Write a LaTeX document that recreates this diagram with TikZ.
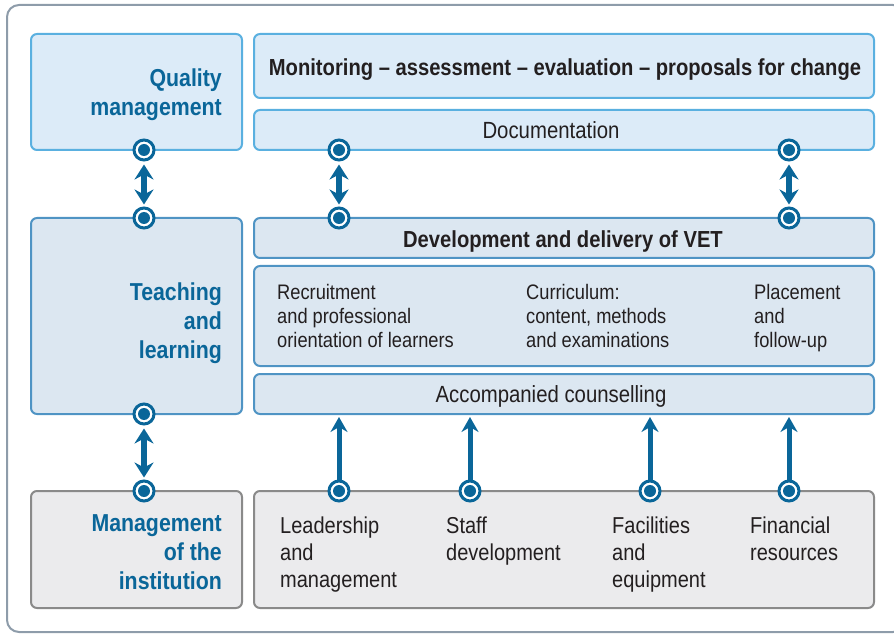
\documentclass[tikz,border=0pt]{standalone}
\usepackage{fontspec}
\setmainfont[FakeStretch=0.87]{Liberation Sans}
\usetikzlibrary{arrows.meta}
\definecolor{frame}{HTML}{8E9CAA}
\definecolor{lbfill}{HTML}{DCEBF8}
\definecolor{lbdraw}{HTML}{5AB0E0}
\definecolor{mbfill}{HTML}{DCE7F1}
\definecolor{mbdraw}{HTML}{4F94C4}
\definecolor{gfill}{HTML}{EBEBED}
\definecolor{gdraw}{HTML}{8A8A8A}
\definecolor{dblue}{HTML}{0A6699}
\definecolor{txt}{HTML}{231F20}
\tikzset{
  box/.style={rounded corners=6pt, line width=2pt, minimum height=#1, inner sep=0pt, outer sep=0pt},
  qbox/.style={box=#1, draw=lbdraw, fill=lbfill},
  tbox/.style={box=#1, draw=mbdraw, fill=mbfill},
  gbox/.style={box=#1, draw=gdraw, fill=gfill},
  leftw/.style={minimum width=211pt},
  rightw/.style={minimum width=620pt},
  lbl/.style={anchor=east, align=right, text=dblue, inner sep=0pt, font=\fontsize{24.5}{29}\selectfont\bfseries},
  big/.style={text=txt, inner sep=0pt, font=\fontsize{23.4}{27}\selectfont},
  bigb/.style={text=txt, inner sep=0pt, font=\fontsize{23.2}{27}\selectfont\bfseries},
  capc/.style={text height=16.5pt, text depth=0pt},
  mid/.style={anchor=west, align=left, text=txt, inner sep=0pt, font=\fontsize{21}{24}\selectfont},
  bot/.style={anchor=west, align=left, text=txt, inner sep=0pt, font=\fontsize{23}{27}\selectfont},
  pin/.style={circle, draw=dblue, fill=white, line width=3pt, minimum size=20pt, inner sep=0pt,
    path picture={\fill[dblue] (path picture bounding box.center) circle (6pt);}},
  dbl/.style={draw=dblue, line width=6pt, {Stealth[inset=5pt,length=15pt,width=19pt]}-{Stealth[inset=5pt,length=15pt,width=19pt]}, shorten <=3pt, shorten >=2pt},
  upar/.style={draw=dblue, line width=5pt, -{Stealth[inset=5pt,length=15pt,width=17pt]}, shorten >=3pt}
}
\begin{document}
\begin{tikzpicture}[x=1pt,y=-1pt]
\useasboundingbox (0,0) rectangle (894,636);
\draw[frame, line width=2pt, rounded corners=12pt] (7,5) rectangle (905,632);
% left boxes
\node[qbox=116pt, leftw] (qm) at (136.5,92) {};
\node[tbox=196pt, leftw] (tl) at (136.5,316) {};
\node[gbox=117pt, leftw] (mi) at (136.5,549.5) {};
\node[lbl] (qmt) at (222,95) {Quality\\management};
\node[lbl] (tlt) at (222,323) {Teaching\\and\\learning};
\node[lbl] (mit) at (222,552) {Management\\of the\\institution};
% right boxes
\node[qbox=64pt, rightw] (mon) at (564,66) {};
\node[bigb, capc] (mont) at (565,67) {Monitoring -- assessment -- evaluation -- proposals for change};
\node[qbox=40pt, rightw] (doc) at (564,130) {};
\node[big, capc] (doct) at (551,130) {Documentation};
\node[tbox=40pt, rightw] (dev) at (564,238) {};
\node[bigb, capc] (devt) at (563,239) {Development and delivery of VET};
\node[tbox=100pt, rightw] (cur) at (564,316) {};
\node[tbox=40pt, rightw] (acc) at (564,394) {};
\node[big, capc] (acct) at (551,394) {Accompanied counselling};
\node[gbox=117pt, rightw] (res) at (564,549.5) {};
% middle texts
\node[mid] (m1) at (277,316) {Recruitment\\and professional\\orientation of learners};
\node[mid] (m2) at (526,316) {Curriculum:\\content, methods\\and examinations};
\node[mid] (m3) at (754,318) {Placement\\and\\follow-up};
% bottom texts
\node[bot] (b1) at (280,555) {Leadership\\and\\management};
\node[bot, anchor=north west] (b2) at (446,517) {Staff\\development};
\node[bot] (b3) at (612,555) {Facilities\\and\\equipment};
\node[bot, anchor=north west] (b4) at (750,517) {Financial\\resources};
% pins
\node[pin] (p1) at (144,150) {};
\node[pin] (p2) at (144,218) {};
\node[pin] (p3) at (339,150) {};
\node[pin] (p4) at (339,218) {};
\node[pin] (p5) at (789,150) {};
\node[pin] (p6) at (789,218) {};
\node[pin] (p7) at (144,414) {};
\node[pin] (p8) at (144,491) {};
\node[pin] (q1) at (339,491) {};
\node[pin] (q2) at (470,491) {};
\node[pin] (q3) at (650,491) {};
\node[pin] (q4) at (789,491) {};
% connectors
\draw[dbl] (p1) -- (p2);
\draw[dbl] (p3) -- (p4);
\draw[dbl] (p5) -- (p6);
\draw[dbl] (p7) -- (p8);
\draw[upar] (q1) -- (q1 |- acc.south);
\draw[upar] (q2) -- (q2 |- acc.south);
\draw[upar] (q3) -- (q3 |- acc.south);
\draw[upar] (q4) -- (q4 |- acc.south);
\end{tikzpicture}
\end{document}
